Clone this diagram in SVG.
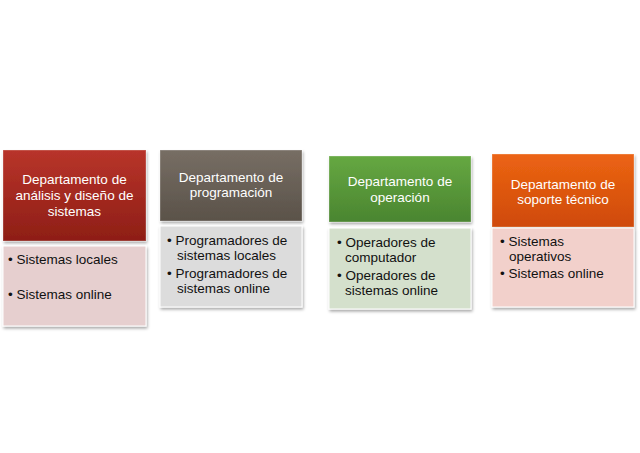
<svg xmlns="http://www.w3.org/2000/svg" width="640" height="453" viewBox="0 0 640 453">
<defs>
<linearGradient id="gr" x1="0" y1="0" x2="0" y2="1"><stop offset="0" stop-color="#b8342a"/><stop offset="1" stop-color="#8e1e16"/></linearGradient>
<linearGradient id="gg" x1="0" y1="0" x2="0" y2="1"><stop offset="0" stop-color="#776e64"/><stop offset="1" stop-color="#5a5249"/></linearGradient>
<linearGradient id="gn" x1="0" y1="0" x2="0" y2="1"><stop offset="0" stop-color="#66a842"/><stop offset="1" stop-color="#4a8530"/></linearGradient>
<linearGradient id="go" x1="0" y1="0" x2="0" y2="1"><stop offset="0" stop-color="#ec6414"/><stop offset="1" stop-color="#cf4a08"/></linearGradient>
<filter id="sh" x="-5%" y="-5%" width="110%" height="115%"><feDropShadow dx="1" dy="2" stdDeviation="1.5" flood-opacity="0.35"/></filter>
</defs>
<style>
.h{font-family:"Liberation Sans",Arial,sans-serif;font-size:13.5px;fill:#fff;text-anchor:middle}
.b{font-family:"Liberation Sans",Arial,sans-serif;font-size:13.5px;fill:#111}
.hd{stroke:#fff;stroke-opacity:0.3;stroke-width:1;filter:url(#sh)}
.bd{stroke:#fff;stroke-width:1;filter:url(#sh)}
</style>
<rect width="640" height="453" fill="#fff"/>
<g id="n1">
<rect class="hd" x="3" y="150" width="143" height="91" fill="url(#gr)"/>
<text class="h" x="74.5" y="184">Departamento de</text>
<text class="h" x="74.5" y="200">análisis y diseño de</text>
<text class="h" x="74.5" y="216">sistemas</text>
<rect class="bd" x="3" y="246" width="143" height="80" fill="#e6cfcf"/>
<text class="b" x="8" y="264">• Sistemas locales</text>
<text class="b" x="8" y="299">• Sistemas online</text>
</g>
<g id="n2">
<rect class="hd" x="160" y="150" width="142" height="71" fill="url(#gg)"/>
<text class="h" x="231" y="182">Departamento de</text>
<text class="h" x="231" y="197">programación</text>
<rect class="bd" x="160" y="226" width="142" height="81" fill="#dcdcdc"/>
<text class="b" x="167" y="245">• Programadores de</text>
<text class="b" x="177" y="260">sistemas locales</text>
<text class="b" x="167" y="278">• Programadores de</text>
<text class="b" x="177" y="293">sistemas online</text>
</g>
<g id="n3">
<rect class="hd" x="329" y="156" width="142" height="66" fill="url(#gn)"/>
<text class="h" x="400" y="186">Departamento de</text>
<text class="h" x="400" y="202">operación</text>
<rect class="bd" x="329" y="228" width="142" height="81" fill="#d4e0cc"/>
<text class="b" x="337" y="247">• Operadores de</text>
<text class="b" x="345" y="262">computador</text>
<text class="b" x="337" y="280">• Operadores de</text>
<text class="b" x="345" y="295">sistemas online</text>
</g>
<g id="n4">
<rect class="hd" x="492" y="154" width="142" height="73" fill="url(#go)"/>
<text class="h" x="563" y="189">Departamento de</text>
<text class="h" x="563" y="204">soporte técnico</text>
<rect class="bd" x="492" y="228" width="142" height="79" fill="#f2d0cb"/>
<text class="b" x="500" y="246">• Sistemas</text>
<text class="b" x="509" y="261">operativos</text>
<text class="b" x="500" y="278">• Sistemas online</text>
</g>
<g id="connectors"/>
</svg>
